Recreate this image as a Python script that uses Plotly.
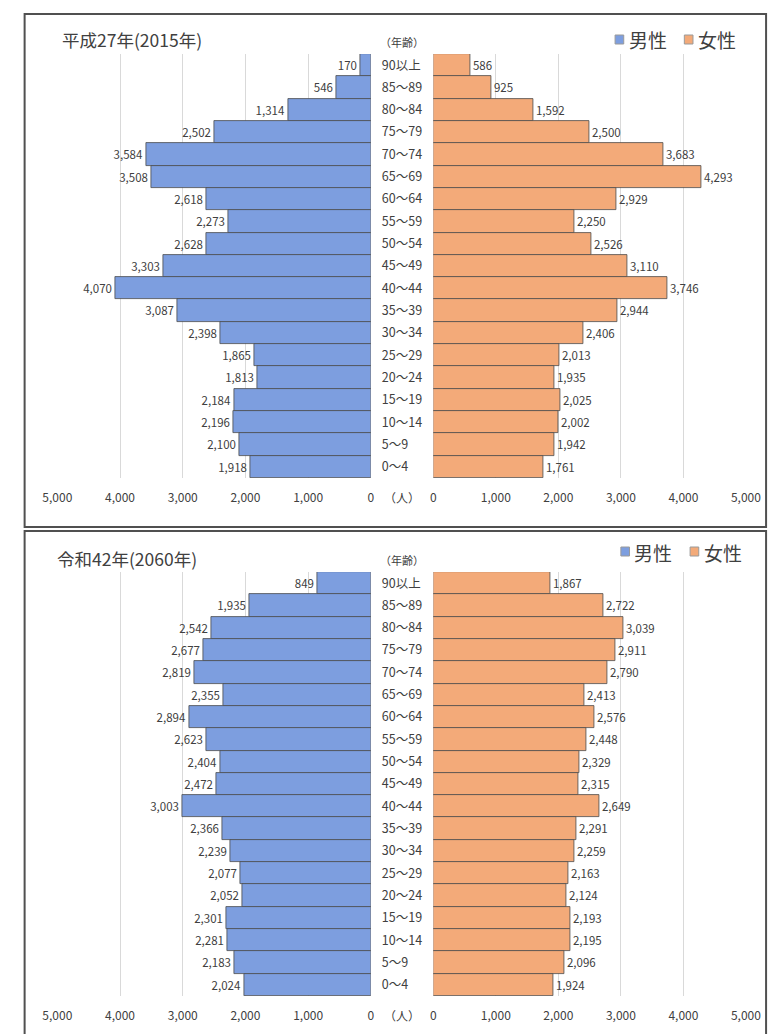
import plotly.graph_objects as go

ages = ["90以上", "85～89", "80～84", "75～79", "70～74", "65～69", "60～64", "55～59",
        "50～54", "45～49", "40～44", "35～39", "30～34", "25～29", "20～24", "15～19",
        "10～14", "5～9", "0～4"]

male_2015 = [170, 546, 1314, 2502, 3584, 3508, 2618, 2273, 2628, 3303, 4070, 3087,
             2398, 1865, 1813, 2184, 2196, 2100, 1918]
female_2015 = [586, 925, 1592, 2500, 3683, 4293, 2929, 2250, 2526, 3110, 3746, 2944,
               2406, 2013, 1935, 2025, 2002, 1942, 1761]
male_2060 = [849, 1935, 2542, 2677, 2819, 2355, 2894, 2623, 2404, 2472, 3003, 2366,
             2239, 2077, 2052, 2301, 2281, 2183, 2024]
female_2060 = [1867, 2722, 3039, 2911, 2790, 2413, 2576, 2448, 2329, 2315, 2649, 2291,
               2259, 2163, 2124, 2193, 2195, 2096, 1924]

titles = ["平成27年(2015年)", "令和42年(2060年)"]
tick_vals = [0, 1000, 2000, 3000, 4000, 5000]

W, H = 783, 1034
def px(x):
    return x / W
def py(y):
    return 1 - y / H

BLUE = "#7D9EDF"
ORANGE = "#F3AA79"
EDGE = "#4a4a4a"
TXT = "#404040"
GRID = "#D9D9D9"
FONT = "Noto Sans CJK JP"

fig = go.Figure()

panels = [
    dict(title=titles[0], male=male_2015, female=female_2015, top=54, bottom=478,
         xm="x", xf="x2", y="y", title_y=40, title_x=47, leg_y=40, leg_x=628,
         box_top=14, box_bot=527),
    dict(title=titles[1], male=male_2060, female=female_2060, top=572, bottom=996,
         xm="x3", xf="x4", y="y2", title_y=558, title_x=42, leg_y=552, leg_x=634,
         box_top=531, box_bot=1060),
]

layout_axes = {}
shapes = []
annotations = []

for i, p in enumerate(panels):
    for vals, col, xa in [(p["male"], BLUE, p["xm"]), (p["female"], ORANGE, p["xf"])]:
        fig.add_trace(go.Bar(
            x=vals, y=ages, orientation="h", xaxis=xa, yaxis=p["y"],
            marker=dict(color=col, line=dict(color=EDGE, width=0.8)),
            text=vals, texttemplate="%{x:,}", textposition="outside",
            textfont=dict(size=11.5, color=TXT, family=FONT),
            cliponaxis=False, constraintext="none", hoverinfo="skip",
        ))
    ydom = [py(p["bottom"]), py(p["top"])]
    xm_name = "xaxis" if p["xm"] == "x" else "xaxis" + p["xm"][1:]
    xf_name = "xaxis" + p["xf"][1:]
    y_name = "yaxis" if p["y"] == "y" else "yaxis" + p["y"][1:]
    common_x = dict(
        tickvals=tick_vals, tickformat=",", showgrid=True, gridcolor=GRID, gridwidth=1,
        zeroline=False, showline=False, ticks="", ticklabelstandoff=11,
        tickfont=dict(size=12, color=TXT, family=FONT), fixedrange=True,
    )
    layout_axes[xm_name] = dict(domain=[px(44), px(370)], range=[5000, 0], anchor=p["y"], **common_x)
    layout_axes[xf_name] = dict(domain=[px(435), px(760)], range=[0, 5000], anchor=p["y"], **common_x)
    layout_axes[y_name] = dict(
        domain=ydom, anchor=p["xm"], side="right", type="category",
        categoryorder="array", categoryarray=ages[::-1], range=[-0.5, len(ages) - 0.5],
        showgrid=False, zeroline=False, showline=False, ticks="", ticklabelstandoff=10,
        tickfont=dict(size=12.5, color=TXT, family=FONT),
    )

    # panel frame
    shapes.append(dict(type="rect", xref="paper", yref="paper",
                       x0=px(10), x1=px(781), y0=py(p["box_bot"]), y1=py(p["box_top"]),
                       line=dict(color="#505050", width=2), fillcolor="rgba(0,0,0,0)", layer="above"))

    # title
    annotations.append(dict(text=p["title"], xref="paper", yref="paper", x=px(p["title_x"]),
                            y=py(p["title_y"]), xanchor="left", yanchor="middle", showarrow=False,
                            font=dict(size=17.5, color=TXT, family=FONT)))
    # (年齢)
    annotations.append(dict(text="（年齢）", xref="paper", yref="paper", x=px(377),
                            y=py(p["title_y"] + 2), xanchor="left", yanchor="middle", showarrow=False,
                            font=dict(size=11, color=TXT, family=FONT)))
    # (人)
    annotations.append(dict(text="（人）", xref="paper", yref="paper", x=px(382),
                            y=py(p["bottom"] + 19), xanchor="left", yanchor="middle", showarrow=False,
                            font=dict(size=12, color=TXT, family=FONT)))
    # legend
    lx = p["leg_x"]
    ly = p["leg_y"]
    for j, (name, col) in enumerate([("男性", BLUE), ("女性", ORANGE)]):
        sx = lx + j * 72
        shapes.append(dict(type="rect", xref="paper", yref="paper",
                           x0=px(sx - 4), x1=px(sx + 5), y0=py(ly + 4), y1=py(ly - 5),
                           fillcolor=col, line=dict(color="#9a9a9a", width=1)))
        annotations.append(dict(text=name, xref="paper", yref="paper", x=px(sx + 8),
                                y=py(ly), xanchor="left", yanchor="middle", showarrow=False,
                                font=dict(size=19, color=TXT, family=FONT)))

fig.update_layout(
    width=W, height=H, margin=dict(l=0, r=0, t=0, b=0),
    paper_bgcolor="white", plot_bgcolor="white",
    showlegend=False, bargap=0, barmode="overlay",
    shapes=shapes, annotations=annotations,
    font=dict(family=FONT, color=TXT),
    **layout_axes,
)

fig.write_html("out.html")
